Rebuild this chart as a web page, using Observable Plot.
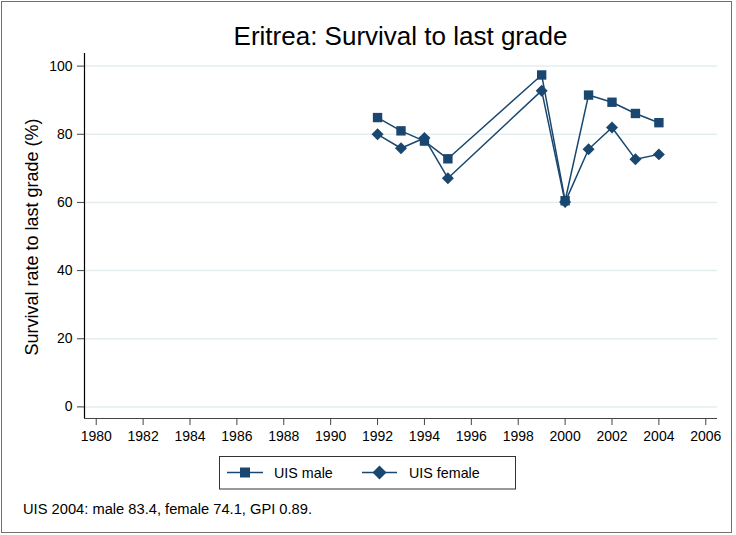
<!DOCTYPE html>
<html><head><meta charset="utf-8">
<script src="https://cdn.jsdelivr.net/npm/d3@7"></script>
<script src="https://cdn.jsdelivr.net/npm/@observablehq/plot@0.6"></script>
<style>
body{margin:0;background:#fff;font-family:"Liberation Sans",Arial,Helvetica,sans-serif;}
#wrap{position:relative;width:736px;height:535px;overflow:hidden;background:#fff;}
#border{position:absolute;left:1px;top:1px;width:729px;height:530px;border:1px solid #707070;pointer-events:none;}
#title{position:absolute;left:84px;width:633px;top:23px;text-align:center;font-size:26px;line-height:26px;color:#000;white-space:nowrap;}
#chart{position:absolute;left:0;top:0;}
#legend{position:absolute;left:219px;top:456px;}
#caption{position:absolute;left:23px;top:501.5px;font-size:14.7px;line-height:14.7px;color:#000;white-space:nowrap;}
</style>
</head><body>
<div id="wrap">
  <div id="chart"></div>
  <div id="title">Eritrea: Survival to last grade</div>
  <div id="legend"></div>
  <div id="caption">UIS 2004: male 83.4, female 74.1, GPI 0.89.</div>
  <div id="border"></div>
</div>
<script>
const years = [1992, 1993, 1994, 1995, 1999, 2000, 2001, 2002, 2003, 2004];
const male = [84.9, 81.0, 78.0, 72.8, 97.4, 60.5, 91.5, 89.4, 86.1, 83.4];
const female = [80.0, 75.9, 78.9, 67.1, 92.8, 60.1, 75.6, 82.0, 72.7, 74.1];
const xTicks = [1980, 1982, 1984, 1986, 1988, 1990, 1992, 1994, 1996, 1998, 2000, 2002, 2004, 2006];
const yTicks = [0, 20, 40, 60, 80, 100];
const seriesNames = ["UIS male", "UIS female"];
const yLabel = "Survival rate to last grade (%)";

const navy = "#1a476f";
const maleData = years.map((y, i) => ({year: y, value: male[i]}));
const femaleData = years.map((y, i) => ({year: y, value: female[i]}));
const xDomain = [1979.5, 2006.5];
const yDomain = [-3.4, 103.7];

const chart = Plot.plot({
  width: 736,
  height: 450,
  marginLeft: 84,
  marginRight: 19,
  marginTop: 53,
  marginBottom: 32,
  style: {fontFamily: '"Liberation Sans", Arial, Helvetica, sans-serif', fontSize: "14px", color: "#000", background: "transparent", overflow: "visible"},
  x: {domain: xDomain},
  y: {domain: yDomain},
  marks: [
    Plot.ruleY(yTicks, {stroke: "#e4eef1", strokeWidth: 1.5}),
    Plot.ruleY([yDomain[0]], {stroke: "#444", strokeWidth: 1.2}),
    Plot.ruleX([xDomain[0]], {stroke: "#000", strokeWidth: 1.2}),
    Plot.axisX({ticks: xTicks, tickFormat: d => String(d), tickSize: 7, tickPadding: 6, label: null, stroke: "#444", fontSize: 14}),
    Plot.axisY({ticks: yTicks, tickSize: 7, tickPadding: 5, label: null, stroke: "#444", fontSize: 14}),
    Plot.line(maleData, {x: "year", y: "value", stroke: navy, strokeWidth: 1.5}),
    Plot.dot(maleData, {x: "year", y: "value", symbol: "square", r: 5.3, fill: navy, stroke: "none"}),
    Plot.line(femaleData, {x: "year", y: "value", stroke: navy, strokeWidth: 1.5}),
    Plot.dot(femaleData, {x: "year", y: "value", symbol: "diamond2", r: 5.4, fill: navy, stroke: "none"})
  ]
});
document.getElementById("chart").appendChild(chart);

// y-axis title
d3.select(chart).append("text")
  .attr("transform", "translate(38,237) rotate(-90)")
  .attr("text-anchor", "middle")
  .style("font-size", "18px")
  .style("fill", "#000")
  .text(yLabel);

// legend
const lg = d3.select("#legend").append("svg")
  .attr("width", 297).attr("height", 34)
  .style("display", "block")
  .style("font-family", '"Liberation Sans", Arial, Helvetica, sans-serif');
lg.append("rect").attr("x", 0.5).attr("y", 0.5).attr("width", 296).attr("height", 32.5)
  .attr("fill", "#fff").attr("stroke", "#333").attr("stroke-width", 1);
const items = [
  {x0: 8, x1: 44, tx: 55, sym: d3.symbolSquare, size: 100},
  {x0: 143, x1: 178, tx: 190, sym: d3.symbolDiamond2, size: 125}
];
items.forEach((it, i) => {
  lg.append("line").attr("x1", it.x0).attr("x2", it.x1).attr("y1", 16.5).attr("y2", 16.5)
    .attr("stroke", navy).attr("stroke-width", 1.5);
  lg.append("path").attr("d", d3.symbol(it.sym, it.size)())
    .attr("transform", `translate(${(it.x0 + it.x1) / 2},16.5)`).attr("fill", navy);
  lg.append("text").attr("x", it.tx).attr("y", 22).style("font-size", "14.3px").attr("fill", "#000")
    .text(seriesNames[i]);
});
</script>
</body></html>
